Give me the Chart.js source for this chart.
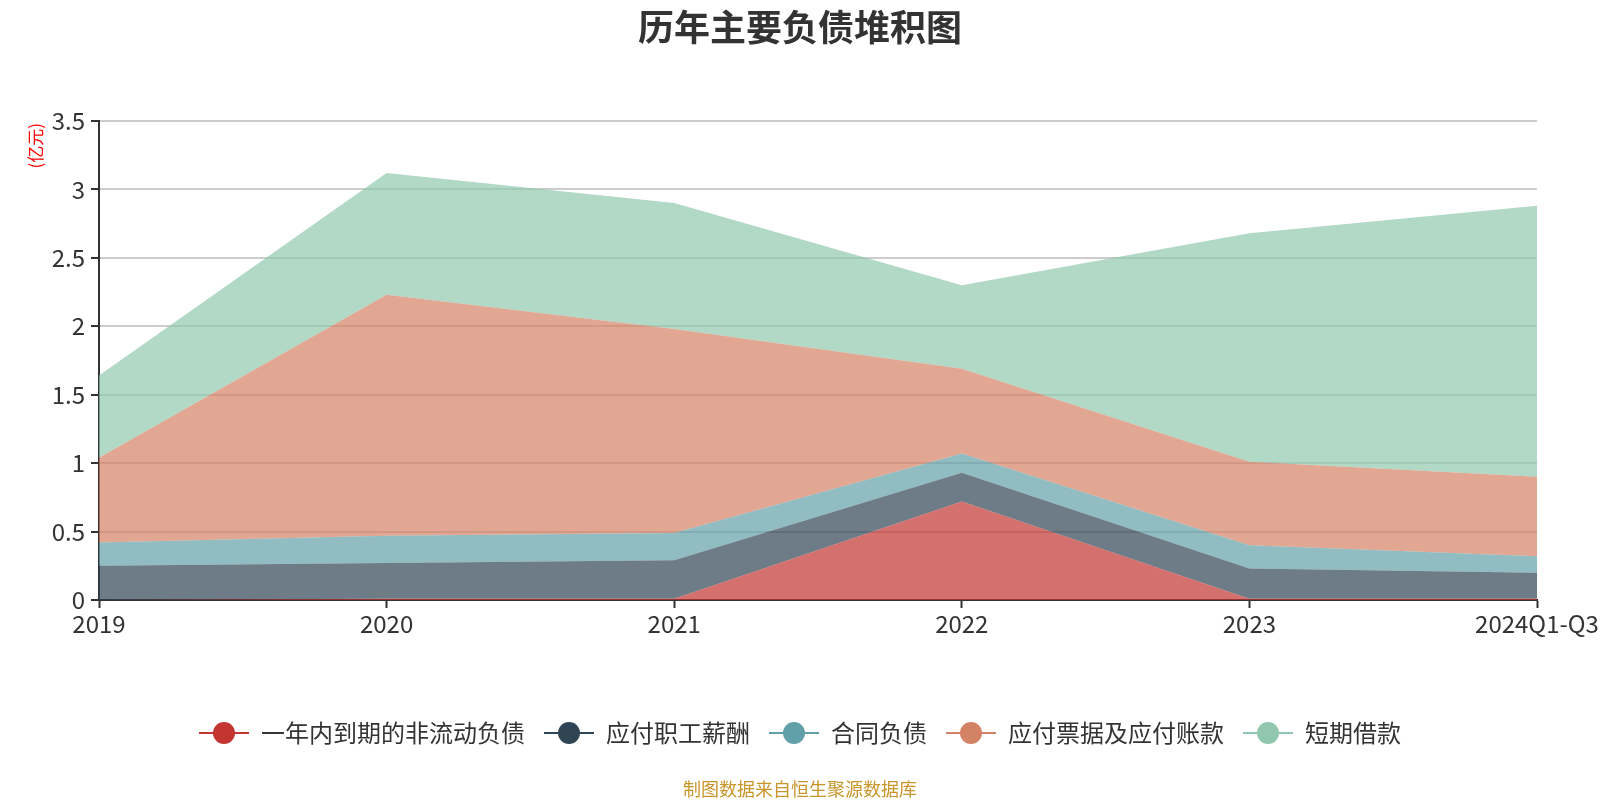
<!DOCTYPE html>
<html>
<head>
<meta charset="utf-8">
<script src="https://cdn.jsdelivr.net/npm/chart.js@4/dist/chart.umd.min.js"></script>
<style>
  html, body { margin: 0; padding: 0; background: #fff; }
  #wrap { width: 1600px; height: 800px; }
</style>
</head>
<body>
<div id="wrap"><canvas id="myChart"></canvas></div>
<script>
// data (亿元)
var years = ['2019', '2020', '2021', '2022', '2023', '2024Q1-Q3'];
var currentNonCurrent = [0, 0.01, 0.01, 0.72, 0.01, 0.01];
var payroll = [0.25, 0.26, 0.28, 0.21, 0.22, 0.19];
var contract = [0.17, 0.20, 0.20, 0.14, 0.17, 0.12];
var payables = [0.62, 1.76, 1.49, 0.62, 0.61, 0.58];
var shortLoans = [0.60, 0.89, 0.92, 0.61, 1.67, 1.98];
var seriesNames = ['一年内到期的非流动负债', '应付职工薪酬', '合同负债', '应付票据及应付账款', '短期借款'];
var colors = ['#c23531', '#2f4554', '#61a0a8', '#d48265', '#91c7ae'];
var yTicks = [0, 3.5, 0.5];

var FONT = '"Noto Sans CJK SC", "Noto Sans", sans-serif';

function hexA(hex, a) {
    var r = parseInt(hex.slice(1, 3), 16), g = parseInt(hex.slice(3, 5), 16), b = parseInt(hex.slice(5, 7), 16);
    return 'rgba(' + r + ',' + g + ',' + b + ',' + a + ')';
}

// legend marker: line with a circle on it
function marker(color) {
    var c = document.createElement('canvas');
    c.width = 50; c.height = 24;
    var x = c.getContext('2d');
    x.strokeStyle = color; x.lineWidth = 2;
    x.beginPath(); x.moveTo(0, 12); x.lineTo(50, 12); x.stroke();
    x.fillStyle = color;
    x.beginPath(); x.arc(25, 12, 11, 0, Math.PI * 2); x.fill();
    return c;
}

var values = [currentNonCurrent, payroll, contract, payables, shortLoans];
var datasets = values.map(function (v, i) {
    return {
        label: seriesNames[i],
        data: v,
        fill: i === 0 ? 'origin' : '-1',
        backgroundColor: hexA(colors[i], 0.7),
        borderColor: 'rgba(0,0,0,0)',
        borderWidth: 0,
        pointRadius: 0,
        pointHoverRadius: 0,
        pointStyle: marker(colors[i]),
        tension: 0
    };
});

// title, unit label and source note
var textPlugin = {
    id: 'texts',
    afterDraw: function (chart) {
        var c = chart.ctx;
        c.save();
        c.textAlign = 'center';
        c.textBaseline = 'middle';
        c.fillStyle = '#333';
        c.font = 'bold 36px ' + FONT;
        c.fillText('历年主要负债堆积图', 800, 27);
        c.fillStyle = '#c8952a';
        c.font = '18px ' + FONT;
        c.fillText('制图数据来自恒生聚源数据库', 800, 789);
        // y unit
        c.translate(36, chart.chartArea.top);
        c.rotate(-Math.PI / 2);
        c.textAlign = 'right';
        c.fillStyle = '#ff0000';
        c.font = '17px ' + FONT;
        c.fillText('(亿元)', -2, 0);
        c.restore();
    }
};

var ctx = document.getElementById('myChart').getContext('2d');
var myChart = new Chart(ctx, {
    type: 'line',
    data: {
        labels: years,
        datasets: datasets
    },
    options: {
        responsive: true,
        maintainAspectRatio: false,
        animation: false,
        layout: {
            padding: { left: 24, right: 24, top: 121, bottom: 45 }
        },
        scales: {
            x: {
                offset: false,
                grid: { display: true, drawOnChartArea: false, tickColor: '#333', tickLength: 8, tickWidth: 2 },
                border: { color: '#333', width: 2 },
                ticks: { color: '#333', font: { size: 24, family: FONT }, padding: 1, maxRotation: 0, autoSkip: false },
                afterFit: function (scale) { scale.height = 102; }
            },
            y: {
                stacked: true,
                min: yTicks[0],
                max: yTicks[1],
                ticks: {
                    stepSize: yTicks[2],
                    color: '#333',
                    font: { size: 24, family: FONT },
                    padding: 6,
                    callback: function (v) { return String(Math.round(v * 10) / 10); }
                },
                grid: { color: '#ccc', lineWidth: 2, tickColor: '#333', tickLength: 8, tickWidth: 2 },
                border: { color: '#333', width: 2 },
                afterFit: function (scale) { scale.width = 75; }
            },
            // empty spacer on the right so the plot ends where the reference does
            y2: {
                position: 'right',
                min: yTicks[0],
                max: yTicks[1],
                grid: { display: false },
                border: { display: false },
                ticks: { display: false },
                afterFit: function (scale) { scale.width = 39; }
            }
        },
        plugins: {
            legend: {
                display: true,
                position: 'bottom',
                labels: {
                    usePointStyle: true,
                    pointStyleWidth: 50,
                    color: '#333',
                    font: { size: 24, family: FONT },
                    padding: 19
                }
            },
            title: { display: false },
            tooltip: { enabled: false }
        }
    },
    plugins: [textPlugin]
});
</script>
</body>
</html>
